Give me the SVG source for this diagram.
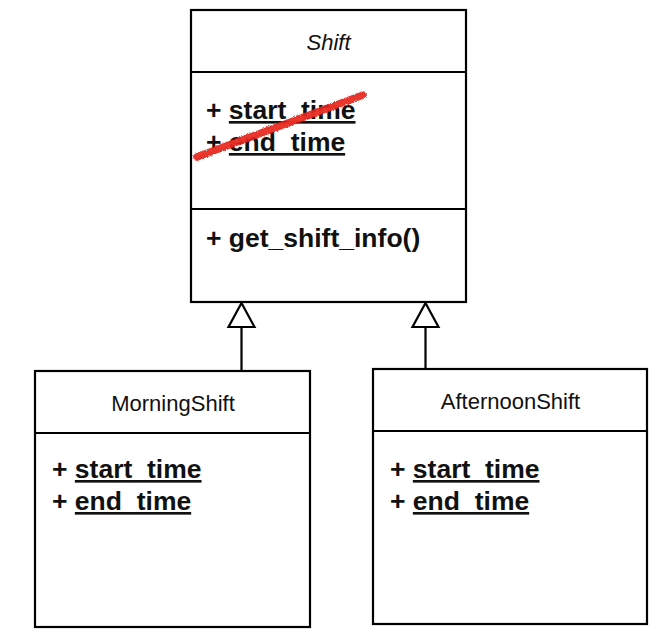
<svg xmlns="http://www.w3.org/2000/svg" width="663" height="636" viewBox="0 0 663 636">
  <style>
    .box { fill: #ffffff; stroke: #000000; stroke-width: 2.2; }
    .div { stroke: #000000; stroke-width: 2.2; fill: none; }
    .name { font-family: "Liberation Sans", Arial, sans-serif; font-size: 22px; fill: #111111; text-anchor: middle; }
    .abstract { font-style: italic; }
    .attr { font-family: "Liberation Sans", Arial, sans-serif; font-size: 26.5px; font-weight: bold; fill: #111111; }
    .ul { text-decoration: underline; }
    .edge { stroke: #000000; stroke-width: 2.2; fill: none; }
    .head { fill: #ffffff; stroke: #000000; stroke-width: 2.2; stroke-linejoin: miter; }
  </style>
  <defs>
    <filter id="rough" x="-10%" y="-50%" width="120%" height="200%">
      <feTurbulence type="fractalNoise" baseFrequency="0.9" numOctaves="2" seed="3" result="n"/>
      <feDisplacementMap in="SourceGraphic" in2="n" scale="3" xChannelSelector="R" yChannelSelector="G"/>
    </filter>
  </defs>
  <rect width="663" height="636" fill="#ffffff"/>

  <g id="Shift">
    <rect class="box" x="191" y="10" width="275" height="292"/>
    <line class="div" x1="191" y1="72" x2="466" y2="72"/>
    <line class="div" x1="191" y1="209" x2="466" y2="209"/>
    <text class="name abstract" x="328.5" y="50">Shift</text>
    <text class="attr" x="206" y="119">+ <tspan class="ul">start_time</tspan></text>
    <text class="attr" x="206" y="151">+ <tspan class="ul">end_time</tspan></text>
    <text class="attr" x="206" y="247">+ get_shift_info()</text>
    <g id="strike" filter="url(#rough)">
      <path d="M197,157 L280,126 L363,95" stroke="#e3241b" stroke-width="7.5" stroke-linecap="round" fill="none" opacity="0.92"/>
      <path d="M199,155 L362,97" stroke="#f03a2e" stroke-width="3" stroke-linecap="round" fill="none" opacity="0.7"/>
    </g>
  </g>

  <g id="MorningShift">
    <rect class="box" x="35" y="371" width="275" height="256"/>
    <line class="div" x1="35" y1="433" x2="310" y2="433"/>
    <text class="name" x="173" y="411">MorningShift</text>
    <text class="attr" x="52" y="478">+ <tspan class="ul">start_time</tspan></text>
    <text class="attr" x="52" y="510">+ <tspan class="ul">end_time</tspan></text>
  </g>

  <g id="AfternoonShift">
    <rect class="box" x="373" y="369" width="274" height="255"/>
    <line class="div" x1="373" y1="431" x2="647" y2="431"/>
    <text class="name" x="510.5" y="409">AfternoonShift</text>
    <text class="attr" x="390" y="478">+ <tspan class="ul">start_time</tspan></text>
    <text class="attr" x="390" y="510">+ <tspan class="ul">end_time</tspan></text>
  </g>

  <g id="connectors">
    <line class="edge" x1="241.5" y1="371" x2="241.5" y2="327"/>
    <polygon class="head" points="241.5,303 228.5,327 254.5,327"/>
    <line class="edge" x1="425.5" y1="369" x2="425.5" y2="327"/>
    <polygon class="head" points="425.5,303 412.5,327 438.5,327"/>
  </g>
</svg>
